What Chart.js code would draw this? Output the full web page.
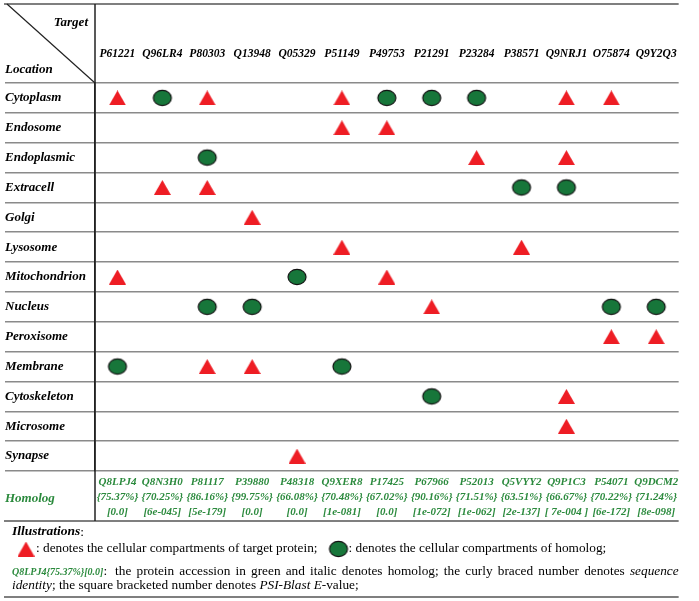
<!DOCTYPE html>
<html>
<head>
<meta charset="utf-8">
<script src="https://cdn.jsdelivr.net/npm/chart.js@4.4.1/dist/chart.umd.min.js"></script>
<style>
  html, body { margin: 0; padding: 0; background: #fff; }
  #wrap { width: 699px; height: 601px; }
</style>
</head>
<body>
<div id="wrap"><canvas id="chart" width="699" height="601"></canvas></div>
<script>
const targets = ["P61221", "Q96LR4", "P80303", "Q13948", "Q05329", "P51149", "P49753",
                 "P21291", "P23284", "P38571", "Q9NRJ1", "O75874", "Q9Y2Q3"];
const locations = ["Cytoplasm", "Endosome", "Endoplasmic", "Extracell", "Golgi", "Lysosome",
                   "Mitochondrion", "Nucleus", "Peroxisome", "Membrane", "Cytoskeleton",
                   "Microsome", "Synapse"];
const homologs = ["Q8LPJ4", "Q8N3H0", "P81117", "P39880", "P48318", "Q9XER8", "P17425",
                  "P67966", "P52013", "Q5VYY2", "Q9P1C3", "P54071", "Q9DCM2"];
const identities = ["75.37%", "70.25%", "86.16%", "99.75%", "66.08%", "70.48%", "67.02%",
                    "90.16%", "71.51%", "63.51%", "66.67%", "70.22%", "71.24%"];
const evalues = ["0.0", "6e-045", "5e-179", "0.0", "0.0", "1e-081", "0.0",
                 "1e-072", "1e-062", "2e-137", " 7e-004 ", "6e-172", "8e-098"];

// [location, target] : compartments of the target protein (triangles)
const targetHits = [
  ["Cytoplasm", "P61221"], ["Cytoplasm", "P80303"], ["Cytoplasm", "P51149"],
  ["Cytoplasm", "Q9NRJ1"], ["Cytoplasm", "O75874"],
  ["Endosome", "P51149"], ["Endosome", "P49753"],
  ["Endoplasmic", "P23284"], ["Endoplasmic", "Q9NRJ1"],
  ["Extracell", "Q96LR4"], ["Extracell", "P80303"],
  ["Golgi", "Q13948"],
  ["Lysosome", "P51149"], ["Lysosome", "P38571"],
  ["Mitochondrion", "P61221"], ["Mitochondrion", "P49753"],
  ["Nucleus", "P21291"],
  ["Peroxisome", "O75874"], ["Peroxisome", "Q9Y2Q3"],
  ["Membrane", "P80303"], ["Membrane", "Q13948"],
  ["Cytoskeleton", "Q9NRJ1"],
  ["Microsome", "Q9NRJ1"],
  ["Synapse", "Q05329"]
];

// [location, target] : compartments of the homolog (circles)
const homologHits = [
  ["Cytoplasm", "Q96LR4"], ["Cytoplasm", "P49753"], ["Cytoplasm", "P21291"], ["Cytoplasm", "P23284"],
  ["Endoplasmic", "P80303"],
  ["Extracell", "P38571"], ["Extracell", "Q9NRJ1"],
  ["Mitochondrion", "Q05329"],
  ["Nucleus", "P80303"], ["Nucleus", "Q13948"], ["Nucleus", "O75874"], ["Nucleus", "Q9Y2Q3"],
  ["Membrane", "P61221"], ["Membrane", "P51149"],
  ["Cytoskeleton", "P21291"]
];

const SERIF = '"Liberation Serif", "Times New Roman", serif';
const RED = "#ee1d24";
const GREEN_FILL = "#17763a";
const GREEN_TEXT = "#2b8a3d";
const NOTE_SIZE = 13.3;

const homologLabels = homologs.map((h, i) => [h, "{" + identities[i] + "}", "[" + evalues[i] + "]"]);

function makeTriangle() {
  const c = document.createElement("canvas");
  c.width = 17; c.height = 15;
  const g = c.getContext("2d");
  g.fillStyle = RED;
  g.beginPath();
  g.moveTo(8.5, 0); g.lineTo(17, 15); g.lineTo(0, 15);
  g.closePath(); g.fill();
  return c;
}

function makeEllipse() {
  const c = document.createElement("canvas");
  c.width = 22; c.height = 20;
  const g = c.getContext("2d");
  g.fillStyle = GREEN_FILL;
  g.strokeStyle = "#111";
  g.lineWidth = 1.2;
  g.beginPath();
  g.ellipse(11, 10, 9, 7.6, 0, 0, Math.PI * 2);
  g.fill(); g.stroke();
  return c;
}

const triangleImg = makeTriangle();
const ellipseImg = makeEllipse();

function font(size, style, weight) {
  return (style || "normal") + " " + (weight || "normal") + " " + size + "px " + SERIF;
}

// draws a row of [text, font, color] pieces, returns the end x
function drawRuns(ctx, x, y, parts) {
  parts.forEach(p => {
    ctx.font = p[1];
    ctx.fillStyle = p[2] || "#000";
    ctx.fillText(p[0], x, y);
    x += ctx.measureText(p[0]).width;
  });
  return x;
}

const tableFrame = {
  id: "tableFrame",
  afterDraw(chart) {
    const ctx = chart.ctx;
    const x = chart.scales.x, x2 = chart.scales.x2, y = chart.scales.y;
    const L = y.left - 1, R = x.right, T = x.top, B = x2.bottom;

    function line(ax, ay, bx, by) {
      ctx.beginPath(); ctx.moveTo(ax, ay); ctx.lineTo(bx, by); ctx.stroke();
    }

    ctx.save();
    ctx.strokeStyle = "#555";
    ctx.lineWidth = 1.5;
    line(L, T, R, T);
    line(L, B, R, B);
    line(L, B + 76, R, B + 76);
    ctx.strokeStyle = "#222";
    line(y.right, T, y.right, B);
    ctx.lineWidth = 1.2;
    line(L + 3, T, y.right, x.bottom);

    ctx.textBaseline = "middle";
    ctx.fillStyle = "#000";
    ctx.font = font(13, "italic", "bold");
    ctx.textAlign = "right";
    ctx.fillText("Target", y.right - 7, T + 19);
    ctx.textAlign = "left";
    ctx.fillText("Location", L + 1, x.bottom - 13);

    ctx.fillStyle = GREEN_TEXT;
    ctx.fillText("Homolog", L + 1, (x2.top + x2.bottom) / 2 + 3);

    // illustrations
    let yy = B + 11;
    drawRuns(ctx, 12, yy, [["Illustrations", font(13.5, "italic", "bold")], [":", font(13.5)]]);

    yy = B + 28;
    ctx.drawImage(triangleImg, 26 - 8.5, yy - 7.5);
    let ex = drawRuns(ctx, 36, yy, [[": denotes the cellular compartments of target protein;", font(NOTE_SIZE)]]);
    const cx = ex + 21;
    ctx.drawImage(ellipseImg, cx - 11, yy - 10);
    drawRuns(ctx, cx + 10, yy, [[": denotes the cellular compartments of homolog;", font(NOTE_SIZE)]]);

    yy = B + 51;
    ex = drawRuns(ctx, 12, yy, [["Q8LPJ4{75.37%}[0.0]", font(10, "italic", "bold"), GREEN_TEXT], [":", font(NOTE_SIZE)]]);
    const words = "the protein accession in green and italic denotes homolog; the curly braced number denotes".split(" ")
      .map(w => [w, font(NOTE_SIZE)]);
    words.push(["sequence", font(NOTE_SIZE, "italic")]);
    let total = 0;
    words.forEach(w => { ctx.font = w[1]; total += ctx.measureText(w[0]).width; });
    const start = ex + 8;
    const gap = (R - start - total) / (words.length - 1);
    let wx = start;
    words.forEach(w => {
      ctx.font = w[1]; ctx.fillStyle = "#000";
      ctx.fillText(w[0], wx, yy);
      wx += ctx.measureText(w[0]).width + gap;
    });

    yy = B + 65;
    drawRuns(ctx, 12, yy, [
      ["identity", font(NOTE_SIZE, "italic")],
      ["; the square bracketed number denotes ", font(NOTE_SIZE)],
      ["PSI-Blast E", font(NOTE_SIZE, "italic")],
      ["-value;", font(NOTE_SIZE)]
    ]);
    ctx.restore();
  }
};

new Chart(document.getElementById("chart"), {
  type: "scatter",
  data: {
    datasets: [
      {
        label: "target",
        data: targetHits.map(h => ({ x: h[1], y: h[0] })),
        pointStyle: triangleImg,
        pointRadius: 8,
        pointHoverRadius: 8
      },
      {
        label: "homolog",
        data: homologHits.map(h => ({ x: h[1], y: h[0] })),
        pointStyle: ellipseImg,
        pointRadius: 8,
        pointHoverRadius: 8
      }
    ]
  },
  options: {
    responsive: false,
    animation: false,
    layout: { padding: { left: 5, right: 8, top: 4, bottom: 80 } },
    plugins: {
      legend: { display: false },
      tooltip: { enabled: false }
    },
    scales: {
      x: {
        type: "category",
        labels: targets,
        position: "top",
        offset: true,
        grid: { display: false, drawTicks: false },
        border: { display: false },
        ticks: {
          autoSkip: false, maxRotation: 0, padding: 22, color: "#000",
          font: { family: SERIF, size: 11.5, style: "italic", weight: "bold" }
        },
        afterFit: s => { s.height = 79; }
      },
      x2: {
        type: "category",
        labels: homologLabels,
        position: "bottom",
        offset: true,
        grid: { display: false, drawTicks: false },
        border: { display: false },
        ticks: {
          autoSkip: false, maxRotation: 0, padding: 3, color: GREEN_TEXT,
          font: { family: SERIF, size: 11, style: "italic", weight: "bold", lineHeight: 1.4 }
        },
        afterFit: s => { s.height = 50; }
      },
      y: {
        type: "category",
        labels: locations,
        offset: true,
        grid: { color: "#8a8a8a", lineWidth: 1.5, offset: true, drawTicks: true, tickLength: 90 },
        border: { display: true, color: "#222", width: 1.5 },
        ticks: {
          crossAlign: "far", padding: 0, color: "#000",
          font: { family: SERIF, size: 13, style: "italic", weight: "bold" }
        },
        afterFit: s => { s.width = 90; }
      }
    }
  },
  plugins: [tableFrame]
});
</script>
</body>
</html>
